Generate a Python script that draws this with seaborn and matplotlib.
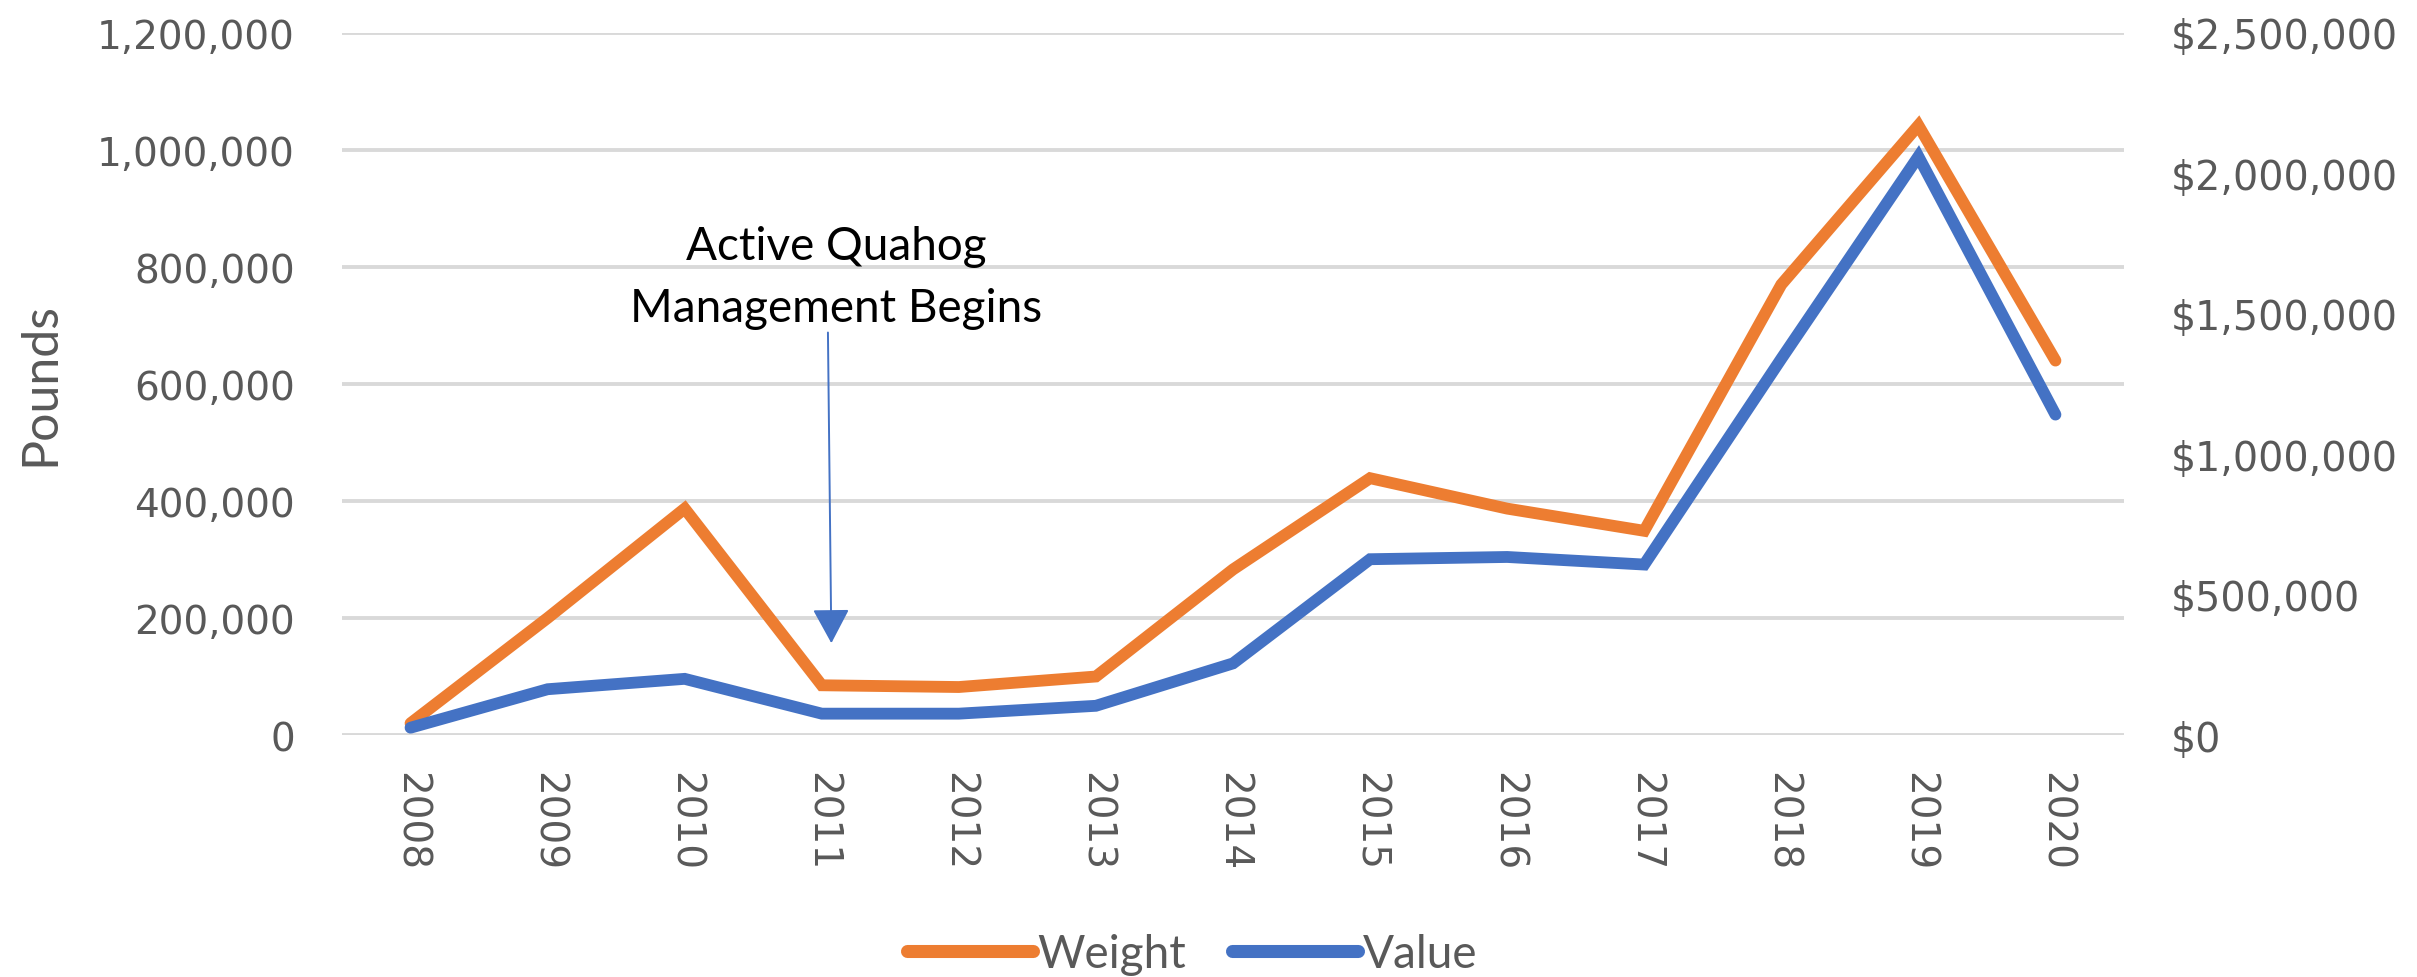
import matplotlib
matplotlib.use("Agg")
import matplotlib.pyplot as plt
import seaborn as sns
import numpy as np
from matplotlib.ticker import FuncFormatter, FixedLocator
from matplotlib.lines import Line2D

# ---- data ----
years = ["2008", "2009", "2010", "2011", "2012", "2013", "2014",
         "2015", "2016", "2017", "2018", "2019", "2020"]
weight_lbs = [20000, 200000, 387000, 85000, 82000, 100000, 283000,
              439000, 387000, 349000, 770000, 1042000, 640000]
value_usd = [26000, 163000, 200000, 76000, 76000, 104000, 255000,
             626000, 634000, 607000, 1340000, 2060000, 1141000]
left_ticks = [0, 200000, 400000, 600000, 800000, 1000000, 1200000]
right_ticks = [0, 500000, 1000000, 1500000, 2000000, 2500000]
series_names = ["Weight", "Value"]
annotation_lines = ["Active Quahog", "Management Begins"]

ORANGE = "#ED7D31"
BLUE = "#4472C4"
GRID = "#D9D9D9"
TXT = "#595959"

sns.set_theme(style="white")
plt.rcParams['font.family'] = ['DejaVu Sans']

W, H = 2417, 978
fig = plt.figure(figsize=(W / 100, H / 100), dpi=100)
ax = fig.add_axes([342 / W, 1 - 736 / H, (2124 - 342) / W, (736 - 34) / H])
ax2 = ax.twinx()

x = np.arange(len(years))
LW = 8.5
sns.lineplot(x=x, y=weight_lbs, ax=ax, color=ORANGE, linewidth=LW,
             solid_capstyle='round', solid_joinstyle='miter', legend=False)
sns.lineplot(x=x, y=value_usd, ax=ax2, color=BLUE, linewidth=LW,
             solid_capstyle='round', solid_joinstyle='miter', legend=False)

ax.set_xlim(-0.5, len(years) - 0.5)
ax.set_ylim(left_ticks[0], left_ticks[-1])
ax2.set_ylim(right_ticks[0], right_ticks[-1])

ax.yaxis.set_major_locator(FixedLocator(left_ticks))
ax2.yaxis.set_major_locator(FixedLocator(right_ticks))
ax.yaxis.set_major_formatter(FuncFormatter(lambda v, p: f"{v:,.0f}"))
ax2.yaxis.set_major_formatter(FuncFormatter(lambda v, p: f"${v:,.0f}"))
ax.set_xticks(x)
ax.set_xticklabels(years, rotation=270)

ax.grid(axis='y', color=GRID, linewidth=2.8)
ax.grid(axis='x', visible=False)
ax2.grid(False)
ax.set_axisbelow(True)
for a in (ax, ax2):
    for s in a.spines.values():
        s.set_visible(False)
    a.set_xlabel("")
    a.set_ylabel("")

ax.tick_params(axis='y', length=0, pad=34, labelsize=28, labelcolor=TXT)
ax2.tick_params(axis='y', length=0, pad=34, labelsize=28.5, labelcolor=TXT)
ax.tick_params(axis='x', length=0, pad=26, labelsize=28, labelcolor=TXT)

# y-axis title
fig.text(40 / W, 1 - 384 / H, "Pounds", rotation=90, ha='center', va='center',
         fontsize=36, color=TXT, family=['Lato', 'DejaVu Sans'])

# annotation
ax.annotate("", xy=(3.07, 157000), xytext=(3.045, 688000),
            arrowprops=dict(arrowstyle="-|>,head_length=1.08,head_width=0.58",
                            mutation_scale=20, color=BLUE, lw=1.4,
                            shrinkA=0, shrinkB=0))
ax.text(3.107, 813700, annotation_lines[0], ha='center', va='baseline',
        fontsize=33, color='black', family=['Lato', 'DejaVu Sans'])
ax.text(3.107, 708000, annotation_lines[1], ha='center', va='baseline',
        fontsize=33, color='black', family=['Lato', 'DejaVu Sans'])

# legend
handles = [Line2D([0], [0], color=ORANGE, lw=9.4, solid_capstyle='round'),
           Line2D([0], [0], color=BLUE, lw=9.4, solid_capstyle='round')]
leg = fig.legend(handles, series_names, loc='center',
                 bbox_to_anchor=(1192 / W, 1 - 955 / H), ncol=2, frameon=False,
                 handlelength=2.75, handletextpad=0.1, columnspacing=1.0,
                 prop={'family': ['Lato', 'DejaVu Sans'], 'size': 33})
for t in leg.get_texts():
    t.set_color(TXT)

fig.savefig("out.png", dpi=100, facecolor='white')
